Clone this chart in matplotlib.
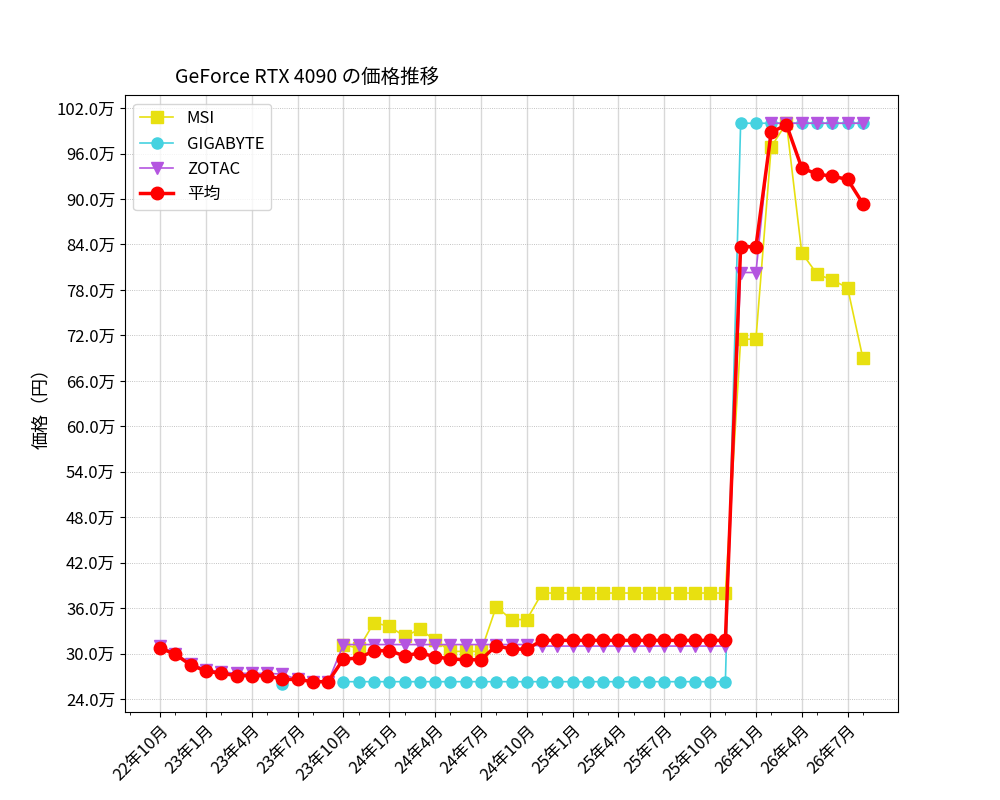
import numpy as np
import matplotlib
matplotlib.use("Agg")
from matplotlib import pyplot as plt
from matplotlib.ticker import FuncFormatter

plt.rcParams['font.family'] = ['Noto Sans CJK JP', 'DejaVu Sans']

# months since 2022-10 (0..46)
months = np.arange(47)
nan = np.nan

msi = [nan] * 12 + [31.2, 30.7, 34.1, 33.6, 32.3, 33.2, 31.8, 30.3, 30.3, 30.3,
                    36.2, 34.5, 34.5] + [38.0] * 13 + \
      [71.5, 71.5, 96.9, 100.0, 82.9, 80.1, 79.3, 78.3, 69.0]
gigabyte = [nan] * 8 + [26.0, nan, nan, nan] + [26.3] * 26 + [100.0] * 9
zotac = [31.0, 30.0, 28.7, 27.9, 27.6, 27.4, 27.4, 27.4, 27.3, 26.6, 26.3, 26.3] + \
        [31.2] * 13 + [31.0] * 13 + [80.3, 80.3] + [100.0] * 7
average = [30.75, 29.9, 28.5, 27.7, 27.4, 27.1, 27.1, 27.1, 26.6, 26.6, 26.3, 26.3,
           29.3, 29.4, 30.4, 30.4, 29.7, 30.1, 29.6, 29.3, 29.2, 29.2, 31.05, 30.6,
           30.6] + [31.75] * 13 + \
          [83.7, 83.7, 98.8, 99.8, 94.1, 93.3, 93.0, 92.6, 89.4]

tick_pos = list(range(0, 46, 3))
tick_labels = ['22年10月', '23年1月', '23年4月', '23年7月', '23年10月', '24年1月',
               '24年4月', '24年7月', '24年10月', '25年1月', '25年4月', '25年7月',
               '25年10月', '26年1月', '26年4月', '26年7月']

to_yen = lambda v: np.array(v, dtype=float) * 10000

fig = plt.figure(figsize=(10, 8), dpi=100)
ax = fig.add_axes([0.125, 0.11, 0.773, 0.771])

ax.plot(months, to_yen(msi), color='#e8e010', marker='s', ms=8, lw=1.2, label='MSI')
ax.plot(months, to_yen(gigabyte), color='#45d2e0', marker='o', ms=8, lw=1.2, label='GIGABYTE')
ax.plot(months, to_yen(zotac), color='#b455e0', marker='v', ms=8, lw=1.2, label='ZOTAC')
ax.plot(months, to_yen(average), color='red', marker='o', ms=9, lw=2.5, label='平均')

ax.set_xticks(tick_pos)
ax.set_xticklabels(tick_labels, rotation=45, ha='right', rotation_mode='anchor', fontsize=12)
ax.set_xticks(np.arange(-2, 49, 3), minor=True)
ax.set_yticks(np.arange(24, 103, 6) * 10000)
ax.yaxis.set_major_formatter(FuncFormatter(lambda v, p: f'{v / 10000:.1f}万'))
ax.tick_params(axis='y', labelsize=12)
ax.grid(True, axis='x', color='#d8d8d8', lw=1)
ax.grid(True, axis='y', color='#b0b0b0', lw=0.6, linestyle=':')
ax.set_ylabel('価格（円）', fontsize=13)
ax.text(0.065, 1.02, 'GeForce RTX 4090 の価格推移', transform=ax.transAxes, fontsize=14)
ax.legend(loc='upper left', fontsize=12)

fig.savefig('out.png')
